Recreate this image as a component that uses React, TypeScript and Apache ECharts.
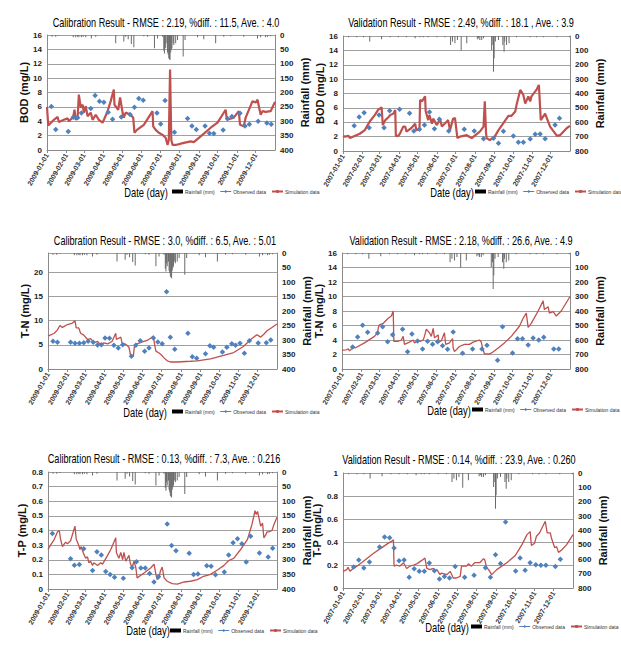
import React, { useEffect, useRef } from "react";
import * as echarts from "echarts";

// ---------- DATA ----------
const MONTH_START_DAYS = [0, 31, 59, 90, 120, 151, 181, 212, 243, 273, 304, 334];
const TICKS_2009 = ["2009-01-01", "2009-02-01", "2009-03-01", "2009-04-01", "2009-05-01", "2009-06-01", "2009-07-01", "2009-08-01", "2009-09-01", "2009-10-01", "2009-11-01", "2009-12-01"];
const TICKS_2007 = ["2007-01-01", "2007-02-01", "2007-03-01", "2007-04-01", "2007-05-01", "2007-06-01", "2007-07-01", "2007-08-01", "2007-09-01", "2007-10-01", "2007-11-01", "2007-12-01"];

const TITLES = [
  "Calibration Result - RMSE : 2.19, %diff. : 11.5, Ave. : 4.0",
  "Validation Result - RMSE : 2.49, %diff. : 18.1 , Ave. : 3.9",
  "Calibration Result - RMSE : 3.0, %diff. : 6.5, Ave. : 5.01",
  "Validation Result - RMSE : 2.18, %diff. : 26.6, Ave. : 4.9",
  "Calibration Result - RMSE : 0.13, %diff. : 7.3, Ave. : 0.216",
  "Validation Result - RMSE : 0.14, %diff. : 23.9, Ave. : 0.260",
];
const Y_NAMES = ["BOD (mg/L)", "BOD (mg/L)", "T-N (mg/L)", "T-N (mg/L)", "T-P (mg/L)", "T-P (mg/L)"];
const LEGEND_NAMES = ["Rainfall (mm)", "Observed data", "Simulation data"];

// [day of year, mm]
const RAIN_2009 = [[8, 6], [14, 6], [19, 3], [42, 8], [46, 8], [49, 6], [51, 8], [55, 8], [58, 6], [62, 8], [71, 12], [78, 6], [110, 29], [123, 23], [126, 6], [130, 15], [135, 31], [139, 43], [155, 4], [161, 6], [172, 46], [177, 12], [185, 6], [187, 54], [188, 64], [189, 35], [190, 46], [192, 29], [193, 61], [194, 69], [195, 81], [196, 84], [197, 87], [198, 61], [199, 52], [200, 46], [202, 29], [203, 35], [206, 29], [209, 17], [218, 75], [221, 17], [241, 8], [251, 15], [270, 29], [283, 6], [294, 4], [315, 6], [337, 12], [342, 8], [350, 8], [353, 6], [358, 4]];
const RAIN_2007 = [[9, 9], [22, 9], [33, 9], [43, 39], [62, 23], [76, 9], [89, 9], [102, 9], [116, 16], [124, 9], [129, 9], [137, 9], [151, 9], [164, 9], [173, 63], [176, 39], [180, 51], [184, 28], [190, 102], [199, 51], [216, 23], [218, 16], [220, 28], [223, 28], [226, 16], [239, 97], [241, 63], [242, 248], [243, 155], [245, 39], [250, 28], [257, 63], [259, 109], [260, 39], [263, 63], [267, 51], [279, 9], [301, 9], [311, 9], [322, 9], [344, 9], [364, 9]];

// [day of year, value]
const SIM_BOD_2009 = [[0, 6.0], [2, 3.4], [11, 4.2], [17, 4.6], [19, 3.9], [27, 4.2], [33, 4.4], [35, 4.0], [42, 4.6], [44, 5.6], [46, 4.2], [49, 4.5], [51, 7.7], [54, 5.9], [57, 6.3], [59, 5.2], [62, 6.1], [65, 4.7], [70, 5.2], [73, 4.2], [78, 4.9], [83, 4.2], [89, 3.8], [97, 5.4], [102, 6.8], [107, 8.4], [108, 6.3], [114, 5.6], [117, 7.3], [121, 5.2], [123, 4.5], [126, 5.2], [134, 4.9], [138, 4.5], [140, 2.4], [144, 2.8], [155, 3.5], [169, 5.4], [170, 3.3], [174, 2.8], [179, 2.4], [185, 2.1], [190, 1.7], [193, 0.7], [195, 1.4], [197, 11.2], [199, 1.4], [201, 0.7], [206, 0.7], [219, 1.0], [230, 1.2], [235, 1.1], [246, 1.9], [262, 3.1], [273, 3.8], [286, 5.6], [288, 4.2], [299, 4.5], [307, 5.4], [309, 3.5], [315, 3.3], [318, 4.5], [329, 6.8], [334, 6.6], [337, 7.0], [342, 4.9], [345, 5.4], [350, 5.3], [358, 5.4], [365, 6.7]];
const OBS_BOD_2009 = [[7, 6.05], [14, 2.84], [34, 2.56], [42, 4.56], [49, 4.47], [55, 5.16], [70, 5.77], [77, 7.58], [84, 6.79], [91, 6.65], [98, 5.26], [105, 4.28], [119, 4.6], [133, 4.93], [140, 5.95], [147, 7.16], [154, 6.93], [176, 5.16], [182, 3.63], [189, 6.88], [204, 2.47], [225, 4.37], [232, 3.35], [239, 2.84], [253, 3.35], [260, 2.33], [267, 2.28], [282, 2.79], [289, 4.37], [296, 4.65], [309, 5.12], [317, 3.35], [324, 3.58], [338, 4.0], [352, 3.77], [359, 3.58]];

const SIM_BOD_2007 = [[0, 2.1], [3, 2.0], [9, 2.1], [11, 1.8], [14, 1.9], [27, 2.4], [35, 2.9], [43, 4.1], [51, 5.0], [57, 5.8], [60, 5.9], [62, 6.1], [64, 3.6], [68, 4.3], [73, 4.7], [76, 5.0], [81, 5.2], [84, 5.7], [85, 2.1], [89, 2.1], [92, 2.5], [97, 3.4], [100, 3.4], [102, 2.7], [110, 3.2], [116, 3.8], [118, 2.9], [123, 3.1], [124, 7.1], [127, 6.9], [132, 7.6], [133, 5.5], [137, 4.3], [139, 5.0], [143, 3.8], [145, 4.5], [151, 3.6], [156, 4.5], [159, 3.4], [167, 4.1], [169, 4.3], [172, 2.9], [177, 4.5], [180, 4.6], [183, 2.5], [184, 1.8], [188, 2.0], [199, 2.2], [207, 1.8], [220, 2.7], [226, 3.4], [228, 6.9], [230, 2.5], [231, 1.8], [236, 1.5], [244, 2.0], [250, 2.9], [266, 4.9], [271, 4.9], [277, 5.5], [279, 6.4], [285, 8.5], [290, 7.8], [293, 6.6], [298, 7.6], [301, 6.9], [303, 7.6], [311, 8.5], [315, 9.2], [318, 4.3], [325, 5.2], [333, 3.4], [344, 2.1], [349, 2.2], [360, 3.2], [365, 3.5]];
const OBS_BOD_2007 = [[18, 3.53], [26, 4.73], [34, 5.33], [42, 3.25], [58, 5.01], [66, 3.25], [75, 5.61], [91, 5.8], [107, 5.24], [114, 2.78], [123, 3.01], [131, 3.62], [139, 5.43], [147, 3.11], [155, 4.41], [170, 2.78], [195, 3.01], [211, 2.78], [226, 1.72], [242, 1.76], [250, 1.07], [258, 2.74], [274, 2.09], [282, 1.21], [290, 1.21], [301, 1.67], [309, 2.32], [317, 2.37], [325, 1.72], [341, 3.62], [348, 4.55]];

const SIM_TN_2009 = [[0, 6.8], [10, 7.4], [15, 8.1], [19, 9.0], [23, 8.6], [31, 9.2], [39, 9.5], [43, 10.0], [45, 8.5], [49, 8.5], [52, 7.4], [57, 7.0], [63, 6.1], [68, 6.3], [73, 5.4], [79, 5.7], [84, 5.0], [89, 5.4], [95, 5.2], [102, 5.7], [108, 7.4], [109, 6.1], [116, 6.6], [118, 5.4], [124, 5.1], [129, 4.5], [132, 2.6], [136, 2.6], [138, 5.0], [148, 5.5], [158, 5.9], [164, 6.4], [168, 6.8], [170, 5.0], [172, 3.7], [177, 3.3], [180, 3.0], [185, 2.3], [190, 1.7], [195, 1.45], [206, 1.45], [227, 1.6], [238, 1.7], [259, 2.1], [280, 2.8], [296, 3.4], [312, 4.7], [323, 6.1], [333, 7.1], [339, 6.6], [344, 7.2], [349, 7.9], [357, 8.6], [365, 9.3]];
const OBS_TN_2009 = [[8, 5.72], [15, 5.52], [36, 5.52], [43, 5.31], [50, 5.31], [57, 5.45], [64, 5.72], [72, 5.52], [79, 4.97], [85, 5.03], [91, 6.41], [98, 6.34], [105, 4.9], [112, 4.34], [119, 5.03], [133, 2.62], [140, 4.9], [147, 5.86], [154, 3.66], [161, 4.34], [168, 6.41], [175, 5.59], [182, 5.24], [189, 16.0], [195, 6.55], [202, 4.07], [223, 7.38], [230, 2.55], [237, 2.21], [251, 3.17], [258, 4.83], [264, 4.48], [278, 3.52], [285, 4.48], [293, 5.24], [299, 4.9], [306, 5.31], [313, 3.24], [321, 5.86], [335, 5.38], [348, 5.45], [355, 6.0]];

const SIM_TN_2007 = [[0, 2.6], [7, 2.65], [10, 2.8], [12, 2.5], [18, 3.0], [21, 2.9], [36, 3.6], [52, 4.5], [57, 5.0], [58, 5.65], [60, 6.1], [66, 6.3], [74, 7.0], [79, 7.3], [82, 8.0], [83, 3.8], [89, 3.8], [95, 4.0], [98, 4.5], [100, 3.4], [108, 3.7], [114, 4.0], [116, 3.6], [122, 3.9], [125, 3.8], [130, 4.0], [132, 4.5], [135, 5.5], [138, 5.2], [140, 5.0], [143, 4.5], [146, 5.6], [148, 4.3], [154, 4.7], [155, 3.7], [159, 3.9], [164, 5.0], [166, 3.4], [172, 3.6], [177, 4.2], [178, 2.9], [180, 2.4], [188, 3.1], [196, 3.4], [204, 3.4], [210, 3.7], [220, 4.0], [223, 3.7], [225, 2.9], [228, 2.1], [236, 2.07], [241, 2.3], [250, 2.9], [260, 3.6], [271, 4.5], [284, 5.9], [290, 7.0], [295, 7.7], [298, 5.75], [303, 6.3], [314, 8.0], [322, 9.4], [324, 8.2], [330, 8.6], [332, 7.7], [338, 7.9], [343, 7.3], [351, 8.0], [365, 10.0]];
const OBS_TN_2007 = [[17, 3.03], [25, 4.41], [33, 6.02], [41, 5.06], [57, 4.97], [65, 5.84], [73, 3.77], [81, 4.74], [97, 5.47], [105, 2.39], [112, 4.83], [121, 3.86], [129, 2.76], [137, 3.82], [145, 3.4], [153, 3.77], [161, 3.22], [169, 2.71], [178, 5.1], [193, 2.16], [209, 2.76], [224, 2.76], [232, 3.26], [249, 1.2], [257, 5.84], [273, 2.21], [281, 4.18], [289, 4.18], [298, 3.31], [306, 4.28], [315, 4.0], [323, 4.37], [339, 2.76], [347, 2.76]];

const SIM_TP_2009 = [[0, 0.27], [4, 0.3], [10, 0.34], [15, 0.39], [18, 0.4], [20, 0.34], [23, 0.29], [28, 0.32], [31, 0.31], [36, 0.33], [43, 0.43], [45, 0.34], [48, 0.31], [51, 0.27], [53, 0.29], [56, 0.25], [60, 0.21], [63, 0.22], [65, 0.18], [68, 0.19], [71, 0.16], [73, 0.18], [79, 0.16], [84, 0.18], [87, 0.17], [95, 0.23], [100, 0.27], [105, 0.32], [108, 0.35], [109, 0.25], [113, 0.21], [116, 0.25], [119, 0.2], [121, 0.25], [124, 0.19], [129, 0.23], [131, 0.18], [134, 0.145], [137, 0.19], [140, 0.145], [142, 0.076], [153, 0.11], [164, 0.145], [169, 0.17], [172, 0.1], [174, 0.064], [177, 0.076], [179, 0.12], [182, 0.15], [185, 0.076], [190, 0.053], [198, 0.037], [206, 0.034], [217, 0.048], [227, 0.053], [238, 0.064], [248, 0.087], [259, 0.1], [270, 0.13], [280, 0.16], [288, 0.195], [296, 0.21], [307, 0.27], [318, 0.34], [325, 0.44], [330, 0.535], [332, 0.51], [334, 0.53], [339, 0.43], [342, 0.45], [344, 0.35], [347, 0.37], [349, 0.39], [352, 0.39], [357, 0.4], [360, 0.44], [365, 0.49]];
const OBS_TP_2009 = [[7, 0.379], [36, 0.207], [42, 0.163], [50, 0.168], [57, 0.276], [71, 0.126], [78, 0.255], [85, 0.232], [92, 0.12], [99, 0.099], [106, 0.08], [120, 0.074], [134, 0.145], [141, 0.186], [148, 0.143], [155, 0.143], [162, 0.106], [169, 0.048], [176, 0.083], [190, 0.444], [197, 0.297], [204, 0.262], [225, 0.244], [232, 0.099], [239, 0.103], [253, 0.159], [260, 0.156], [267, 0.097], [281, 0.117], [288, 0.232], [295, 0.317], [302, 0.343], [309, 0.31], [316, 0.184], [323, 0.361], [337, 0.246], [351, 0.218], [358, 0.278]];

const SIM_TP_2007 = [[0, 0.145], [6, 0.16], [8, 0.18], [11, 0.145], [16, 0.17], [22, 0.19], [32, 0.23], [48, 0.3], [64, 0.36], [72, 0.39], [77, 0.405], [80, 0.42], [81, 0.19], [85, 0.2], [90, 0.19], [96, 0.22], [101, 0.17], [106, 0.19], [112, 0.2], [117, 0.21], [125, 0.24], [130, 0.26], [133, 0.17], [138, 0.16], [143, 0.17], [146, 0.145], [149, 0.16], [154, 0.116], [156, 0.13], [165, 0.116], [170, 0.145], [175, 0.087], [180, 0.087], [186, 0.101], [188, 0.19], [196, 0.19], [199, 0.21], [204, 0.19], [209, 0.22], [217, 0.22], [223, 0.255], [225, 0.245], [228, 0.174], [231, 0.16], [236, 0.116], [244, 0.16], [260, 0.22], [273, 0.28], [284, 0.377], [292, 0.464], [297, 0.49], [299, 0.37], [304, 0.39], [307, 0.45], [312, 0.48], [321, 0.58], [324, 0.48], [329, 0.48], [331, 0.43], [336, 0.35], [339, 0.36], [342, 0.31], [347, 0.33], [355, 0.377], [365, 0.464]];
const OBS_TP_2007 = [[17, 0.183], [25, 0.243], [33, 0.174], [42, 0.226], [58, 0.357], [66, 0.443], [74, 0.438], [81, 0.348], [89, 0.238], [97, 0.243], [105, 0.093], [113, 0.168], [121, 0.145], [129, 0.145], [137, 0.217], [145, 0.151], [153, 0.078], [161, 0.101], [169, 0.087], [178, 0.188], [193, 0.093], [208, 0.11], [226, 0.177], [234, 0.093], [242, 0.29], [250, 0.212], [258, 0.574], [274, 0.148], [281, 0.261], [289, 0.154], [297, 0.22], [306, 0.203], [314, 0.197], [322, 0.197], [337, 0.186], [345, 0.249]];

// left axis [max, interval], right axis [max, interval]
const LEFT_AXES = [[16, 2], [16, 2], [24, 5], [16, 2], [0.8, 0.1], [1, 0.2]];
const RIGHT_AXES = [[400, 50], [800, 100], [400, 50], [800, 100], [400, 50], [800, 100]];

// ---------- LAYOUT ----------
const LAYOUT = [
  { left: 47, top: 35, width: 228, height: 115, tx: 166, ty: 22, dx: 146, dy: 192, lx: 172, ly: 189 },
  { left: 343, top: 36, width: 227, height: 115, tx: 461, ty: 22, dx: 452, dy: 192, lx: 475, ly: 189 },
  { left: 48, top: 253, width: 229, height: 116, tx: 165, ty: 240, dx: 145, dy: 412, lx: 172, ly: 409 },
  { left: 342, top: 253, width: 228, height: 116, tx: 461, ty: 240, dx: 449, dy: 410, lx: 472, ly: 407 },
  { left: 48, top: 472, width: 229, height: 117, tx: 164, ty: 458, dx: 148, dy: 630, lx: 170, ly: 628 },
  { left: 343, top: 473, width: 230, height: 115, tx: 459, ty: 459, dx: 447, dy: 627, lx: 471, ly: 624 },
];

const PANELS = [
  { rain: RAIN_2009, sim: SIM_BOD_2009, obs: OBS_BOD_2009, ticks: TICKS_2009, lw: 2.2 },
  { rain: RAIN_2007, sim: SIM_BOD_2007, obs: OBS_BOD_2007, ticks: TICKS_2007, lw: 2.2 },
  { rain: RAIN_2009, sim: SIM_TN_2009, obs: OBS_TN_2009, ticks: TICKS_2009, lw: 1.3 },
  { rain: RAIN_2007, sim: SIM_TN_2007, obs: OBS_TN_2007, ticks: TICKS_2007, lw: 1.3 },
  { rain: RAIN_2009, sim: SIM_TP_2009, obs: OBS_TP_2009, ticks: TICKS_2009, lw: 1.3 },
  { rain: RAIN_2007, sim: SIM_TP_2007, obs: OBS_TP_2007, ticks: TICKS_2007, lw: 1.3 },
];

const SANS = "'Liberation Sans', Arial, sans-serif";
const AXIS_COLOR = "#8a8a8a";
const GRID_COLOR = "#a0a0a0";
const RED = "#C0504D";
const BLUE = "#4F81BD";

export default function App() {
  const ref = useRef<HTMLDivElement>(null);
  useEffect(() => {
    if (!ref.current) return;
    const chart = echarts.init(ref.current, null, { renderer: "svg" });

    const grid = LAYOUT.map((l) => ({ left: l.left, top: l.top, width: l.width, height: l.height, outerBoundsMode: "none" }));

    const xAxis = PANELS.map((p, i) => ({
      type: "value",
      gridIndex: i,
      min: 0,
      max: 365,
      axisLine: { show: true, lineStyle: { color: AXIS_COLOR } },
      axisTick: { show: true, customValues: MONTH_START_DAYS, length: 3, lineStyle: { color: AXIS_COLOR } },
      axisLabel: {
        customValues: MONTH_START_DAYS,
        formatter: (v: number) => p.ticks[MONTH_START_DAYS.indexOf(v)] ?? "",
        rotate: 60,
        fontSize: 7,
        fontWeight: "bold",
        color: "#333",
        margin: 4,
        fontFamily: SANS,
      },
      splitLine: { show: false },
    }));

    const yAxis: any[] = [];
    PANELS.forEach((p, i) => {
      const [lmax, lint] = LEFT_AXES[i];
      const [rmax, rint] = RIGHT_AXES[i];
      yAxis.push({
        type: "value",
        gridIndex: i,
        position: "left",
        min: 0,
        max: lmax,
        interval: lint,
        axisLine: { show: true, lineStyle: { color: AXIS_COLOR } },
        axisTick: { show: false },
        axisLabel: { fontSize: 8, fontWeight: "bold", color: "#222", margin: 5, fontFamily: SANS, showMaxLabel: i !== 2 },
        splitLine: { show: true, lineStyle: { color: GRID_COLOR, width: 1 } },
        name: Y_NAMES[i],
        nameLocation: "middle",
        nameRotate: 90,
        nameGap: 17,
        nameTextStyle: { fontSize: 11, fontWeight: "bold", color: "#111", fontFamily: SANS },
      });
      yAxis.push({
        type: "value",
        gridIndex: i,
        position: "right",
        inverse: true,
        min: 0,
        max: rmax,
        interval: rint,
        axisLine: { show: true, lineStyle: { color: AXIS_COLOR } },
        axisTick: { show: false },
        axisLabel: { fontSize: 8, fontWeight: "bold", color: "#222", margin: 5, fontFamily: SANS },
        splitLine: { show: false },
        name: "Rainfall (mm)",
        nameLocation: "middle",
        nameRotate: 90,
        nameGap: 24,
        nameTextStyle: { fontSize: 11, fontWeight: "bold", color: "#111", fontFamily: SANS },
      });
    });

    const series: any[] = [];
    PANELS.forEach((p, i) => {
      series.push({
        type: "bar",
        name: LEGEND_NAMES[0],
        xAxisIndex: i,
        yAxisIndex: 2 * i + 1,
        data: p.rain,
        barWidth: 1,
        itemStyle: { color: "#6a6a6a" },
        silent: true,
      });
      series.push({
        type: "line",
        name: LEGEND_NAMES[2],
        xAxisIndex: i,
        yAxisIndex: 2 * i,
        data: p.sim,
        symbol: "none",
        lineStyle: { color: RED, width: p.lw },
        itemStyle: { color: RED },
      });
      series.push({
        type: "line",
        name: LEGEND_NAMES[1],
        xAxisIndex: i,
        yAxisIndex: 2 * i,
        data: p.obs,
        symbol: "diamond",
        symbolSize: 5.5,
        itemStyle: { color: BLUE },
        lineStyle: { opacity: 0 },
      });
    });

    const legend = LAYOUT.map((l) => ({
      left: l.lx,
      top: l.ly,
      width: 220,
      orient: "horizontal",
      itemWidth: 11,
      itemHeight: 4,
      itemGap: 5,
      padding: 0,
      selectedMode: false,
      textStyle: { fontSize: 5, color: "#333", fontFamily: SANS, padding: [0, 0, 0, -3] },
      data: [
        { name: LEGEND_NAMES[0], icon: "rect", itemStyle: { color: "#000" } },
        { name: LEGEND_NAMES[1], lineStyle: { opacity: 1, color: BLUE, width: 1 } },
        { name: LEGEND_NAMES[2] },
      ],
    }));

    const graphic: any[] = [];
    LAYOUT.forEach((l, i) => {
      graphic.push({
        type: "text",
        x: l.tx,
        y: l.ty,
        scaleX: 0.76,
        style: { text: TITLES[i], fontSize: 12, fontFamily: SANS, fill: "#000", align: "center", verticalAlign: "middle" },
      });
      graphic.push({
        type: "text",
        x: l.dx,
        y: l.dy,
        scaleX: 0.72,
        style: { text: "Date (day)", fontSize: 13, fontFamily: SANS, fill: "#000", align: "center", verticalAlign: "middle" },
      });
    });

    chart.setOption({
      animation: false,
      backgroundColor: "#fff",
      textStyle: { fontFamily: SANS },
      grid,
      xAxis,
      yAxis,
      series,
      legend,
      graphic,
    });
    return () => chart.dispose();
  }, []);

  return <div ref={ref} style={{ position: "absolute", left: 0, top: 0, width: 621, height: 649, background: "#fff" }} />;
}
